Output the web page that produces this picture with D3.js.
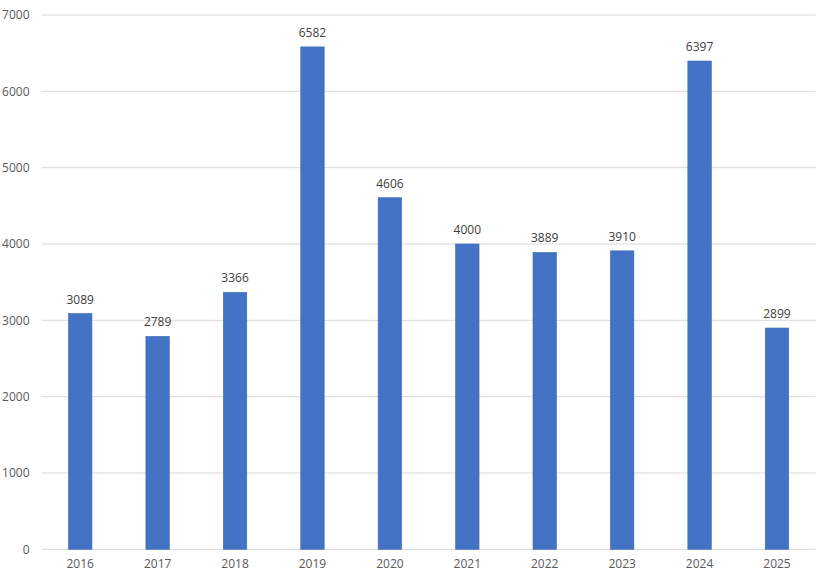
<!DOCTYPE html>
<html>
<head>
<meta charset="utf-8">
<script src="https://cdn.jsdelivr.net/npm/d3@7"></script>
<style>
  body { margin: 0; background: #fff; }
  svg text { font-family: "Open Sans", "Segoe UI", sans-serif; }
</style>
</head>
<body>
<svg id="chart" width="827" height="576"></svg>
<script>
// chart data
var years = ['2016', '2017', '2018', '2019', '2020', '2021', '2022', '2023', '2024', '2025'];
var counts = [3089, 2789, 3366, 6582, 4606, 4000, 3889, 3910, 6397, 2899];
var yTicks = [0, 1000, 2000, 3000, 4000, 5000, 6000, 7000];

var svg = d3.select('#chart');
// plot edges (note: "top" is a window global, so avoid that name)
var plotL = 41.5, plotR = 815.7, plotT = 15, plotB = 549.3;

var x = d3.scaleBand()
  .domain(years)
  .range([plotL, plotR])
  .paddingInner(0.697)
  .paddingOuter(0.3485);

var y = d3.scaleLinear()
  .domain([0, 7000])
  .range([plotB, plotT]);

// gridlines
svg.append('g')
  .selectAll('line')
  .data(yTicks)
  .join('line')
    .attr('x1', plotL)
    .attr('x2', plotR)
    .attr('y1', d => y(d))
    .attr('y2', d => y(d))
    .attr('stroke', '#d9d9d9')
    .attr('stroke-width', 1);

// y axis labels
var yAxis = svg.append('g')
  .attr('transform', 'translate(' + (plotL - 12) + ',0)')
  .call(d3.axisLeft(y).tickValues(yTicks).tickSize(0).tickPadding(0).tickFormat(d3.format('d')));
yAxis.select('.domain').remove();
yAxis.selectAll('text')
  .attr('fill', '#595959')
  .style('font-size', '12px');

// x axis labels
var xAxis = svg.append('g')
  .attr('transform', 'translate(0,' + plotB + ')')
  .call(d3.axisBottom(x).tickSize(0).tickPadding(10));
xAxis.select('.domain').remove();
xAxis.selectAll('text')
  .attr('fill', '#595959')
  .style('font-size', '12px');

// bars
svg.append('g')
  .selectAll('rect')
  .data(counts)
  .join('rect')
    .attr('x', (d, i) => x(years[i]))
    .attr('y', d => y(d))
    .attr('width', x.bandwidth())
    .attr('height', d => plotB - y(d))
    .attr('fill', '#4472c4')
    .attr('stroke', '#3f69b5')
    .attr('stroke-width', 0.6);

// value labels
svg.append('g')
  .selectAll('text')
  .data(counts)
  .join('text')
    .attr('x', (d, i) => x(years[i]) + x.bandwidth() / 2)
    .attr('y', d => y(d) - 10)
    .attr('text-anchor', 'middle')
    .attr('fill', '#404040')
    .style('font-size', '12px')
    .text(d => d);
</script>
</body>
</html>
